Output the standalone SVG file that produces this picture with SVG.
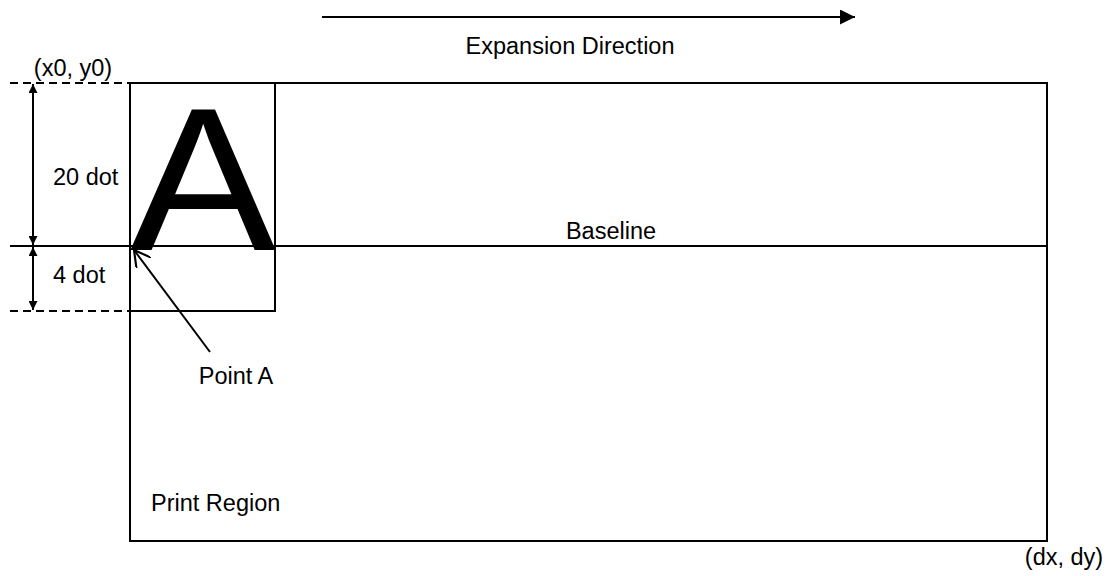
<svg xmlns="http://www.w3.org/2000/svg" width="1109" height="576" viewBox="0 0 1109 576">
<defs>
<style>
text{font-family:"Liberation Sans",Arial,sans-serif;font-size:23.5px;fill:#000}
.ln{stroke:#000;stroke-width:2;fill:none}
.dash{stroke:#000;stroke-width:2;fill:none;stroke-dasharray:8,5}
</style>
<marker id="tri" viewBox="0 0 10 10" refX="10" refY="5" markerWidth="11" markerHeight="9" markerUnits="userSpaceOnUse" orient="auto"><path d="M0,0 L10,5 L0,10 z" fill="#000"/></marker>
<marker id="big" viewBox="0 0 10 10" refX="10" refY="5" markerWidth="17" markerHeight="15" markerUnits="userSpaceOnUse" orient="auto"><path d="M0,0 L10,5 L0,10 z" fill="#000"/></marker>
<marker id="open" viewBox="0 0 10 10" refX="9" refY="5" markerWidth="18" markerHeight="18" markerUnits="userSpaceOnUse" orient="auto"><path d="M0,0 L9,5 L0,10" fill="none" stroke="#000" stroke-width="1.2"/></marker>
</defs>
<rect width="1109" height="576" fill="#fff"/>
<g id="print-region">
<rect x="130" y="83" width="917" height="458" class="ln"/>
<text x="151" y="511">Print Region</text>
</g>
<g id="char-box">
<polyline points="130,83 275,83 275,311 130,311" class="ln"/>
<text x="130" y="250" style="font-size:205px" textLength="146" lengthAdjust="spacingAndGlyphs">A</text>
</g>
<g id="baseline">
<line x1="10" y1="246" x2="1047" y2="246" class="ln"/>
<text x="611" y="239" text-anchor="middle">Baseline</text>
</g>
<g id="labels">
<text x="73" y="76" text-anchor="middle">(x0, y0)</text>
<text x="53" y="185">20 dot</text>
<text x="53" y="283">4 dot</text>
<text x="236" y="384" text-anchor="middle">Point A</text>
<text x="1064" y="565" text-anchor="middle">(dx, dy)</text>
<text x="570" y="54" text-anchor="middle">Expansion Direction</text>
</g>
<g id="connectors">
<line x1="10" y1="83" x2="130" y2="83" class="dash"/>
<line x1="10" y1="311" x2="130" y2="311" class="dash"/>
<line x1="33" y1="165" x2="33" y2="84" class="ln" marker-end="url(#tri)"/>
<line x1="33" y1="165" x2="33" y2="245" class="ln" marker-end="url(#tri)"/>
<line x1="33" y1="278" x2="33" y2="247" class="ln" marker-end="url(#tri)"/>
<line x1="33" y1="278" x2="33" y2="310" class="ln" marker-end="url(#tri)"/>
<line x1="322" y1="17" x2="855" y2="17" class="ln" marker-end="url(#big)"/>
<line x1="210" y1="352" x2="134" y2="250" class="ln" marker-end="url(#open)"/>
</g>
</svg>
